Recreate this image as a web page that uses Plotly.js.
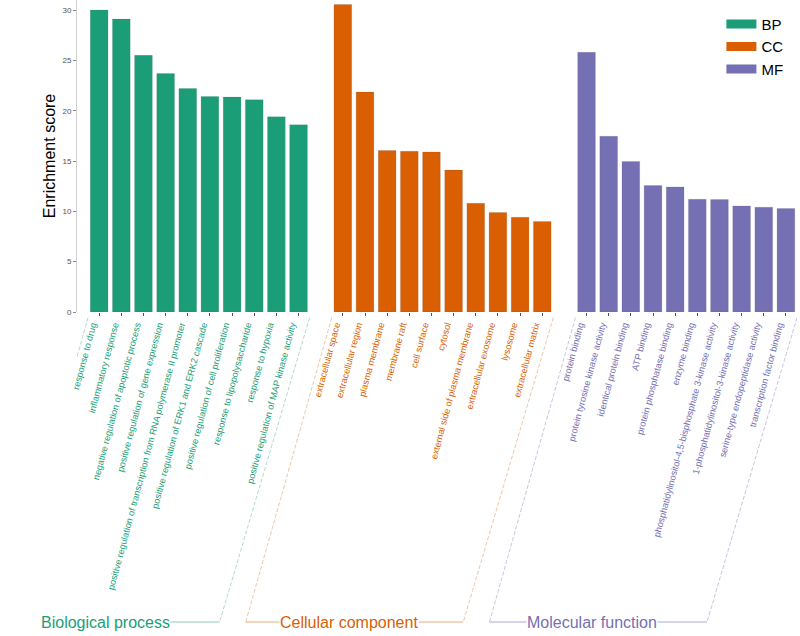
<!DOCTYPE html>
<html>
<head>
<meta charset="utf-8">
<script src="https://cdn.plot.ly/plotly-3.0.1.min.js"></script>
<style>html,body{margin:0;padding:0;background:#fff;}#chart{width:800px;height:636px;}</style>
</head>
<body>
<div id="chart"></div>
<script>
// ---- data ----
const groupNames = ["BP", "CC", "MF"];
const groupTitles = ["Biological process", "Cellular component", "Molecular function"];
const groupColors = ["#1B9E77", "#D95F02", "#7570B3"];
const groupLineColors = ["#8fc9b6", "#e9ac80", "#aeaad6"];

const bpTerms = ["response to drug", "inflammatory response", "negative regulation of apoptotic process",
  "positive regulation of gene expression", "positive regulation of transcription from RNA polymerase II promoter",
  "positive regulation of ERK1 and ERK2 cascade", "positive regulation of cell proliferation",
  "response to lipopolysaccharide", "response to hypoxia", "positive regulation of MAP kinase activity"];
const bpScores = [30.0, 29.1, 25.5, 23.7, 22.2, 21.4, 21.35, 21.1, 19.4, 18.6];

const ccTerms = ["extracellular space", "extracellular region", "plasma membrane", "membrane raft", "cell surface",
  "cytosol", "external side of plasma membrane", "extracellular exosome", "lysosome", "extracellular matrix"];
const ccScores = [30.55, 21.85, 16.05, 15.97, 15.9, 14.1, 10.8, 9.88, 9.41, 9.0];

const mfTerms = ["protein binding", "protein tyrosine kinase activity", "identical protein binding", "ATP binding",
  "protein phosphatase binding", "enzyme binding", "phosphatidylinositol-4,5-bisphosphate 3-kinase activity",
  "1-phosphatidylinositol-3-kinase activity", "serine-type endopeptidase activity", "transcription factor binding"];
const mfScores = [25.8, 17.45, 14.95, 12.56, 12.43, 11.2, 11.17, 10.54, 10.41, 10.28];

const yTicks = [0, 5, 10, 15, 20, 25, 30];

// ---- build ----
const terms = [bpTerms, ccTerms, mfTerms];
const scores = [bpScores, ccScores, mfScores];
const traces = [];
const tickvals = [], ticktext = [];
const shapes = [], annotations = [];
let start = 0;
const pxPerUnit = 720 / 32.5;
const yTop = -0.018, yBot = -0.9936;
terms.forEach((t, g) => {
  const xs = t.map((_, i) => start + i);
  traces.push({
    type: "bar", x: xs, y: scores[g], name: groupNames[g], showlegend: false,
    marker: {color: groupColors[g], line: {color: "rgba(90,90,90,0.3)", width: 0.5}},
    width: 0.8, hoverinfo: "x+y"
  });
  xs.forEach((x, i) => {
    tickvals.push(x);
    ticktext.push('<span style="color:' + groupColors[g] + '">' + t[i] + '</span>');
  });
  const x0 = start - 0.5, x1 = start + t.length - 0.5;
  const bl = x0 - 86 / pxPerUnit, br = x1 - 90 / pxPerUnit;
  const ls = {color: groupLineColors[g], width: 0.7, dash: "4px,2px"};
  shapes.push({type: "line", xref: "x", yref: "paper", x0: x0, y0: yTop, x1: bl, y1: yBot, line: ls});
  shapes.push({type: "line", xref: "x", yref: "paper", x0: x1, y0: yTop, x1: br, y1: yBot, line: ls});
  shapes.push({type: "line", xref: "x", yref: "paper", x0: bl, y0: yBot, x1: br, y1: yBot,
    line: {color: groupLineColors[g], width: 1}});
  annotations.push({xref: "x", yref: "paper", x: bl + 103 / pxPerUnit, y: yBot, text: groupTitles[g],
    showarrow: false, xanchor: "center", yanchor: "middle", bgcolor: "#ffffff", borderpad: 0,
    font: {size: 16, color: groupColors[g]}});
  start += t.length + 1;
});
groupNames.forEach((n, g) => {
  traces.push({type: "scatter", mode: "lines", x: [null], y: [null], name: n,
    line: {color: groupColors[g], width: 9}, hoverinfo: "skip"});
});

const layout = {
  width: 800, height: 636,
  margin: {l: 77, r: 3, t: 0, b: 324},
  paper_bgcolor: "#fff", plot_bgcolor: "#fff",
  font: {family: "Liberation Sans, Arial, sans-serif", color: "#000"},
  xaxis: {range: [-1, 31.5], tickvals: tickvals, ticktext: ticktext, tickangle: -75,
    tickfont: {size: 9.2}, ticks: "outside", ticklen: 3, tickcolor: "#555", showline: false,
    ticklabelshift: -7,
    showgrid: false, zeroline: false, automargin: false},
  yaxis: {range: [0, 31], tickvals: yTicks, ticks: "outside", ticklen: 3, tickcolor: "#888",
    tickfont: {size: 8, color: "#555"}, showline: true, linecolor: "#d0d0d0", linewidth: 1,
    showgrid: false, zeroline: false, automargin: false,
    title: {text: "Enrichment score", font: {size: 16, color: "#000"}, standoff: 2}},
  legend: {x: 0.895, y: 0.975, xanchor: "left", yanchor: "top", font: {size: 15, color: "#000"},
    bgcolor: "rgba(0,0,0,0)", itemwidth: 30},
  shapes: shapes, annotations: annotations, bargap: 0.2
};
Plotly.newPlot("chart", traces, layout, {displayModeBar: false, staticPlot: true});
</script>
</body>
</html>
